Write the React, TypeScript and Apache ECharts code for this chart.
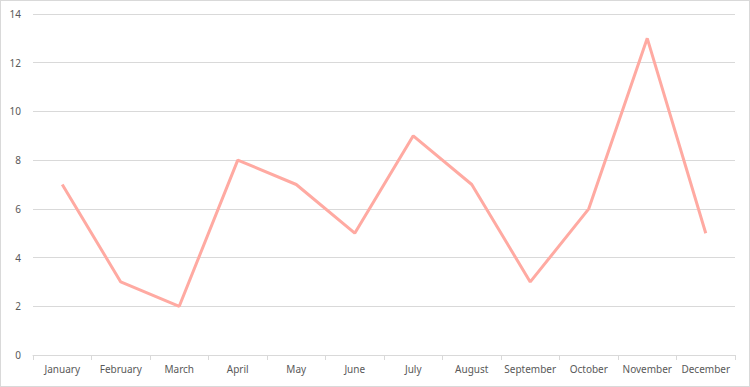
import React, { useEffect, useRef } from "react";
import * as echarts from "echarts";

const months = ["January","February","March","April","May","June","July","August","September","October","November","December"];
const values = [7, 3, 2, 8, 7, 5, 9, 7, 3, 6, 13, 5];
const yMin = 0;
const yMax = 14;
const yStep = 2;

export default function App() {
  const ref = useRef<HTMLDivElement>(null);
  useEffect(() => {
    const chart = echarts.init(ref.current!, null, { renderer: "svg" });
    chart.setOption({
      animation: false,
      backgroundColor: "#ffffff",
      grid: { left: 32, right: 14, top: 13, bottom: 31, containLabel: false },
      xAxis: {
        type: "category",
        data: months,
        boundaryGap: true,
        axisLine: { lineStyle: { color: "#d9d9d9", width: 1 } },
        axisTick: { show: true, interval: 0, length: 5, lineStyle: { color: "#d9d9d9" } },
        axisLabel: { interval: 0, hideOverlap: false, color: "#595959", fontSize: 10, fontFamily: "Noto Sans", margin: 9 },
      },
      yAxis: {
        type: "value",
        min: yMin,
        max: yMax,
        interval: yStep,
        axisLine: { show: false },
        axisTick: { show: false },
        splitLine: { lineStyle: { color: "#d9d9d9", width: 1 } },
        axisLabel: { color: "#595959", fontSize: 10, fontFamily: "Noto Sans", margin: 12 },
      },
      series: [
        {
          type: "line",
          data: values,
          symbol: "none",
          lineStyle: { color: "#ffaaa2", width: 3 },
        },
      ],
    });
    return () => chart.dispose();
  }, []);
  return (
    <div
      ref={ref}
      style={{
        position: "fixed",
        left: 0,
        top: 0,
        width: 750,
        height: 387,
        border: "1px solid #d9d9d9",
        boxSizing: "border-box",
        background: "#fff",
      }}
    />
  );
}
